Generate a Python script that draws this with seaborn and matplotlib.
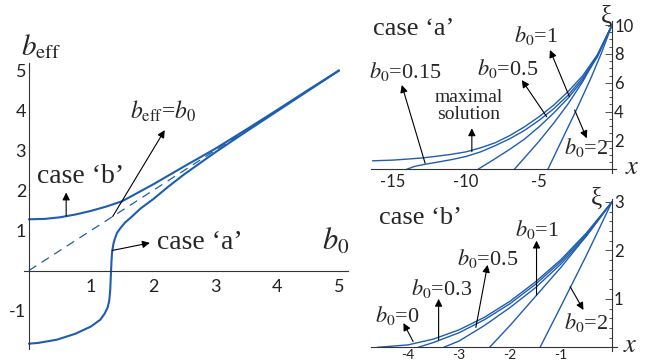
import numpy as np
import pandas as pd
import seaborn as sns
import matplotlib.pyplot as plt
from matplotlib.ticker import FixedLocator, MultipleLocator

# main panel: b_eff vs b0
b_case_b0 = [0, 0.25, 0.5, 0.75, 1.0, 1.25, 1.5, 1.75, 2.0, 2.5, 3.0, 3.5, 4.0, 4.5, 5.0]
b_case_beff = [1.28, 1.29, 1.33, 1.40, 1.49, 1.60, 1.73, 1.94, 2.15, 2.60, 3.04, 3.52, 4.01, 4.51, 5.0]
a_case_b0 = [0, 0.15, 0.45, 0.75, 1.0, 1.15, 1.22, 1.27, 1.295, 1.31, 1.32, 1.33, 1.34,
             1.36, 1.38, 1.42, 1.47, 1.55, 1.64, 1.8, 2.0, 2.25, 2.5, 3.0, 3.5, 4.0, 4.5, 5.0]
a_case_beff = [-1.83, -1.81, -1.73, -1.58, -1.40, -1.23, -1.08, -0.92, -0.75, -0.5, -0.15,
               0.2, 0.45, 0.65, 0.77, 0.94, 1.05, 1.2, 1.32, 1.55, 1.78, 2.1, 2.4, 2.95,
               3.47, 3.98, 4.49, 5.0]
diag_b0 = [0, 5]

# case 'a' profiles xi(x)
xa_max = [-16.4, -15, -14, -13, -12, -11, -10, -9, -8, -7, -6, -5, -4, -3, -2, -1, 0]
xia_max = [0.6, 0.65, 0.72, 0.8, 0.92, 1.05, 1.22, 1.5, 1.85, 2.35, 2.95, 3.65, 4.45,
           5.4, 6.5, 7.95, 10]
xa_015 = [-14.1, -13.5, -12.7, -12, -11, -10, -9, -8, -7, -6, -5, -4, -3, -2, -1, 0]
xia_015 = [0, 0.22, 0.38, 0.5, 0.68, 0.9, 1.22, 1.65, 2.13, 2.7, 3.4, 4.2, 5.15, 6.35, 7.85, 10]
xa_05 = [-9.2, -8, -7, -6, -5, -4, -3, -2, -1, 0]
xia_05 = [0, 0.75, 1.4, 2.1, 2.95, 3.9, 4.95, 6.2, 7.8, 10]
xa_1 = [-6.7, -6, -5, -4, -3, -2, -1, 0]
xia_1 = [0, 0.8, 1.95, 3.2, 4.55, 6.1, 7.9, 10]
xa_2 = [-4.4, -3.5, -2.5, -1.5, -0.75, 0]
xia_2 = [0, 1.9, 4.0, 6.2, 8.0, 10]

# case 'b' profiles xi(x)
xb_0 = [-4.6, -4, -3.5, -3, -2.5, -2, -1.5, -1, -0.5, 0]
xib_0 = [0, 0.05, 0.17, 0.36, 0.62, 0.95, 1.35, 1.81, 2.36, 3.0]
xb_03 = [-3.8, -3.5, -3, -2.5, -2, -1.5, -1, -0.5, 0]
xib_03 = [0, 0.1, 0.3, 0.57, 0.9, 1.3, 1.77, 2.33, 3.0]
xb_05 = [-3.3, -3, -2.5, -2, -1.5, -1, -0.5, 0]
xib_05 = [0, 0.13, 0.45, 0.82, 1.23, 1.72, 2.3, 3.0]
xb_1 = [-2.4, -2, -1.5, -1, -0.5, 0]
xib_1 = [0, 0.45, 1.05, 1.65, 2.3, 3.0]
xb_2 = [-1.41, -1, -0.5, 0]
xib_2 = [0, 0.85, 1.9, 3.0]

sns.set_style('white')
plt.rcParams['font.family'] = ['Liberation Serif', 'DejaVu Serif']
plt.rcParams['mathtext.fontset'] = 'stix'
plt.rcParams['axes.unicode_minus'] = False

blue = '#1f5db0'
tickfont = 'Lato'

fig = plt.figure(figsize=(6.47, 3.6), dpi=100)


def box(l, t, r, b):
    return [l / 647, 1 - b / 360, (r - l) / 647, (b - t) / 360]


def style_axis(ax, fs):
    ax.spines['top'].set_visible(False)
    for s in ax.spines.values():
        s.set_linewidth(0.8)
        s.set_color('#333333')
    ax.tick_params(which='both', direction='in', width=0.6, color='#333333',
                   labelsize=fs, labelcolor='#222222')
    ax.tick_params(which='major', length=5)
    ax.tick_params(which='minor', length=2.5)
    for lab in ax.get_xticklabels() + ax.get_yticklabels():
        lab.set_family(tickfont)
    ax.set_xlabel('')
    ax.set_ylabel('')
    ax.patch.set_alpha(0)


def arrow(ax, tail, head):
    ax.annotate('', xy=head, xytext=tail,
                arrowprops=dict(arrowstyle='-|>', color='black', lw=0.8,
                                mutation_scale=11, shrinkA=0, shrinkB=0))


# ---- main panel ----
ax = fig.add_axes(box(24, 62.5, 348.3, 348.5))
sns.lineplot(x=b_case_b0, y=b_case_beff, ax=ax, sort=False, estimator=None, color=blue, lw=1.5)
sns.lineplot(x=a_case_b0, y=a_case_beff, ax=ax, sort=False, estimator=None, color=blue, lw=1.5)
sns.lineplot(x=diag_b0, y=diag_b0, ax=ax, sort=False, estimator=None, color=blue, lw=0.9,
             linestyle=(0, (7, 5)))
ax.set_xlim(-0.08, 5.15)
ax.set_ylim(-1.95, 5.2)
ax.spines['right'].set_visible(False)
ax.spines['bottom'].set_position(('data', 0))
ax.spines['left'].set_position(('data', 0))
ax.xaxis.set_major_locator(FixedLocator([1, 2, 3, 4, 5]))
ax.xaxis.set_minor_locator(MultipleLocator(0.2))
ax.yaxis.set_major_locator(FixedLocator([-1, 1, 2, 3, 4, 5]))
ax.yaxis.set_minor_locator(MultipleLocator(0.2))
ax.set_xticklabels(['1', '2', '3', '4', '5'])
ax.set_yticklabels(['-1', '1', '2', '3', '4', '5'])
style_axis(ax, 13)
ax.tick_params(axis='x', pad=6)
ax.tick_params(axis='y', pad=2)

ax.text(0.19, 5.6, r'$b_{\rm eff}$', fontsize=21, ha='center', va='center')
ax.text(4.94, 0.72, r'$b_0$', fontsize=22, ha='center', va='center')
ax.text(2.16, 3.99, r'$b_{\rm eff}$=$b_0$', fontsize=17, ha='center', va='center')
arrow(ax, (1.35, 1.35), (2.19, 3.51))
ax.text(0.84, 2.34, 'case \u2018b\u2019', fontsize=20, ha='center', va='center')
arrow(ax, (0.6, 1.36), (0.6, 1.95))
ax.text(2.06, 0.69, 'case \u2018a\u2019', fontsize=20, ha='left', va='center')
arrow(ax, (1.34, 0.5), (1.95, 0.69))

# ---- case 'a' panel ----
ax = fig.add_axes(box(371.1, 21.4, 616.4, 173.1))
for xs, ys in [(xa_max, xia_max), (xa_015, xia_015), (xa_05, xia_05), (xa_1, xia_1), (xa_2, xia_2)]:
    sns.lineplot(x=xs, y=ys, ax=ax, sort=False, estimator=None, color=blue, lw=1.0)
ax.set_xlim(-16.5, 0.3)
ax.set_ylim(-0.25, 10.25)
ax.spines['left'].set_visible(False)
ax.spines['bottom'].set_position(('data', 0))
ax.spines['right'].set_position(('data', 0))
ax.yaxis.tick_right()
ax.xaxis.set_major_locator(FixedLocator([-15, -10, -5]))
ax.xaxis.set_minor_locator(MultipleLocator(0.5))
ax.yaxis.set_major_locator(FixedLocator([2, 4, 6, 8, 10]))
ax.yaxis.set_minor_locator(MultipleLocator(0.5))
ax.set_xticklabels(['-15', '-10', '-5'])
ax.set_yticklabels(['2', '4', '6', '8', '10'])
style_axis(ax, 12)
ax.tick_params(axis='x', pad=3)
ax.tick_params(axis='y', pad=1.5)

ax.text(-13.56, 9.72, 'case \u2018a\u2019', fontsize=19, ha='center', va='center')
ax.text(-0.41, 10.55, '\u03be', fontsize=18, ha='center', va='center')
ax.text(1.37, 0.1, '$x$', fontsize=19, ha='center', va='center')
ax.text(-5.2, 9.24, r'$b_0$=1', fontsize=16, ha='center', va='center')
arrow(ax, (-2.92, 5.04), (-4.25, 8.27))
ax.text(-1.78, 1.49, r'$b_0$=2', fontsize=16, ha='center', va='center')
arrow(ax, (-2.56, 4.12), (-1.73, 2.16))
ax.text(-7.12, 7.02, r'$b_0$=0.5', fontsize=16, ha='center', va='center')
arrow(ax, (-4.47, 3.65), (-6.18, 6.19))
ax.text(-14.18, 6.75, r'$b_0$=0.15', fontsize=16, ha='center', va='center')
arrow(ax, (-12.8, 0.43), (-14.4, 5.85))
ax.text(-9.8, 4.39, 'maximal\nsolution', fontsize=14, ha='center', va='center', linespacing=0.95)
arrow(ax, (-9.6, 1.23), (-9.6, 2.85))

# ---- case 'b' panel ----
ax = fig.add_axes(box(371.3, 199.4, 617.1, 351.2))
for xs, ys in [(xb_0, xib_0), (xb_03, xib_03), (xb_05, xib_05), (xb_1, xib_1), (xb_2, xib_2)]:
    sns.lineplot(x=xs, y=ys, ax=ax, sort=False, estimator=None, color=blue, lw=1.0)
ax.set_xlim(-4.72, 0.1)
ax.set_ylim(-0.08, 3.05)
ax.spines['left'].set_visible(False)
ax.spines['bottom'].set_position(('data', 0))
ax.spines['right'].set_position(('data', 0))
ax.yaxis.tick_right()
ax.xaxis.set_major_locator(FixedLocator([-4, -3, -2, -1]))
ax.xaxis.set_minor_locator(MultipleLocator(0.2))
ax.yaxis.set_major_locator(FixedLocator([1, 2, 3]))
ax.yaxis.set_minor_locator(MultipleLocator(0.2))
ax.set_xticklabels(['-4', '-3', '-2', '-1'])
ax.set_yticklabels(['1', '2', '3'])
style_axis(ax, 12)
ax.tick_params(axis='x', pad=1, labelsize=10)
ax.tick_params(axis='y', pad=1.5)

ax.text(-3.76, 2.67, 'case \u2018b\u2019', fontsize=19, ha='center', va='center')
ax.text(-0.31, 3.06, '\u03be', fontsize=18, ha='center', va='center')
ax.text(0.35, 0.03, '$x$', fontsize=19, ha='center', va='center')
ax.text(-1.47, 2.42, r'$b_0$=1', fontsize=16, ha='center', va='center')
arrow(ax, (-1.48, 1.08), (-1.48, 2.2))
ax.text(-2.43, 1.84, r'$b_0$=0.5', fontsize=16, ha='center', va='center')
arrow(ax, (-2.67, 0.41), (-2.44, 1.7))
ax.text(-3.35, 1.22, r'$b_0$=0.3', fontsize=16, ha='center', va='center')
arrow(ax, (-3.4, 0.15), (-3.4, 1.0))
ax.text(-4.2, 0.65, r'$b_0$=0', fontsize=16, ha='center', va='center')
arrow(ax, (-3.9, 0.12), (-4.09, 0.5))
ax.text(-0.51, 0.52, r'$b_0$=2', fontsize=16, ha='center', va='center')
arrow(ax, (-0.82, 1.25), (-0.56, 0.77))

fig.savefig('out.png', dpi=100)
